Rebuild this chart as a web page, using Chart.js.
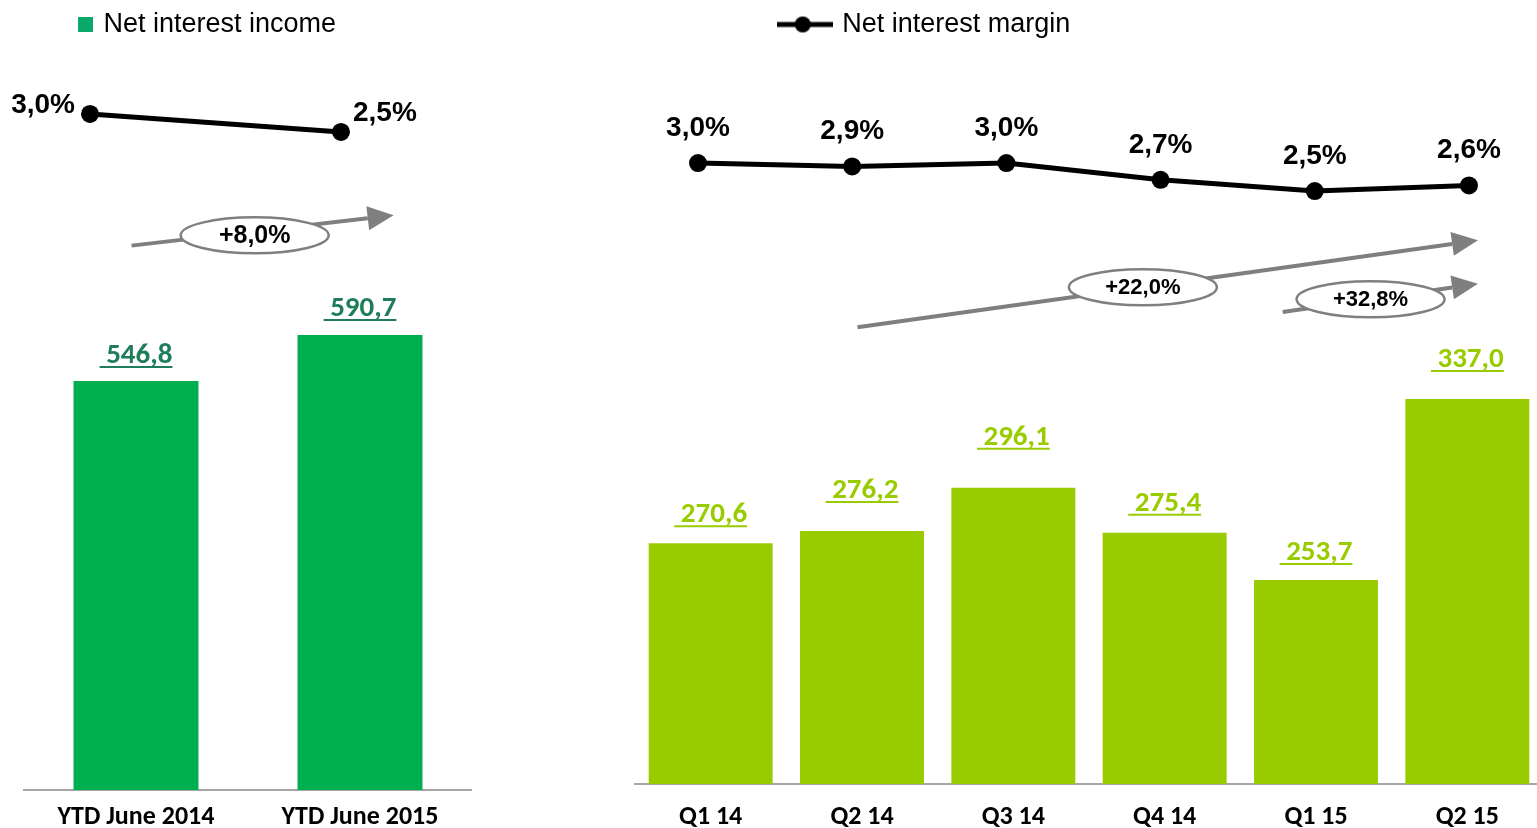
<!DOCTYPE html>
<html>
<head>
<meta charset="utf-8">
<script src="https://cdn.jsdelivr.net/npm/chart.js@4.4.1/dist/chart.umd.min.js"></script>
<style>
  html, body { margin: 0; padding: 0; background: #fff; overflow: hidden; width: 1537px; height: 828px; }
  canvas { position: absolute; top: 0; }
  #ytd { left: -54px; }
  #qtr { left: 308px; }
</style>
</head>
<body>
<canvas id="ytd" width="526" height="828"></canvas>
<canvas id="qtr" width="1235" height="828"></canvas>
<script>
// year to date
const ytdLabels = ['YTD June 2014', 'YTD June 2015'];
const ytdIncome = [546.8, 590.7];
const ytdMargin = [3.0, 2.5];
const ytdGrowth = ['+8,0%'];

// quarters
const qtrLabels = ['Q1 14', 'Q2 14', 'Q3 14', 'Q4 14', 'Q1 15', 'Q2 15'];
const qtrIncome = [270.6, 276.2, 296.1, 275.4, 253.7, 337.0];
const qtrMargin = [3.0, 2.94, 3.0, 2.7, 2.5, 2.6];
const qtrGrowth = ['+22,0%', '+32,8%'];

const ARIAL = '"Liberation Sans", Arial, sans-serif';
const CALIBRI = 'Carlito, Calibri, Lato, sans-serif';
Chart.defaults.font.family = ARIAL;

const fmt = v => v.toFixed(1).replace('.', ',');

// labels above bars (underlined) and next to the margin points
const valueLabels = {
  id: 'valueLabels',
  afterDatasetsDraw(chart, args, opts) {
    const ctx = chart.ctx;
    ctx.save();
    chart.data.datasets.forEach((ds, di) => {
      const meta = chart.getDatasetMeta(di);
      meta.data.forEach((el, i) => {
        const v = ds.data[i];
        if (meta.type === 'bar') {
          const txt = ' ' + fmt(v);
          ctx.font = opts.barFont;
          ctx.fillStyle = ctx.strokeStyle = opts.barColor;
          ctx.textAlign = 'center';
          ctx.textBaseline = 'alphabetic';
          const y = el.y - opts.lift[i];
          ctx.fillText(txt, el.x, y);
          const w = ctx.measureText(txt).width;
          ctx.lineWidth = 2;
          ctx.beginPath();
          ctx.moveTo(el.x - w / 2, y + 4);
          ctx.lineTo(el.x + w / 2, y + 4);
          ctx.stroke();
        } else {
          const off = opts.pointOffsets[i];
          ctx.font = opts.pointFont;
          ctx.fillStyle = '#000';
          ctx.textAlign = off[2];
          ctx.textBaseline = 'middle';
          ctx.fillText(fmt(v.y) + '%', el.x + off[0], el.y + off[1]);
        }
      });
    });
    ctx.restore();
  }
};

// grey growth arrows with an ellipse label
const growthArrows = {
  id: 'growthArrows',
  afterDatasetsDraw(chart, args, opts) {
    const ctx = chart.ctx;
    const xs = chart.scales.x, ys = chart.scales.y;
    opts.arrows.forEach(a => {
      const x0 = xs.getPixelForValue(a.from[0]), y0 = ys.getPixelForValue(a.from[1]);
      const x1 = xs.getPixelForValue(a.to[0]), y1 = ys.getPixelForValue(a.to[1]);
      const ang = Math.atan2(y1 - y0, x1 - x0);
      const c = Math.cos(ang), s = Math.sin(ang);
      const head = 26, half = 12;
      ctx.save();
      ctx.strokeStyle = ctx.fillStyle = '#7F7F7F';
      ctx.lineWidth = 4;
      ctx.beginPath();
      ctx.moveTo(x0, y0);
      ctx.lineTo(x1 - head * c, y1 - head * s);
      ctx.stroke();
      ctx.beginPath();
      ctx.moveTo(x1, y1);
      ctx.lineTo(x1 - head * c + half * s, y1 - head * s - half * c);
      ctx.lineTo(x1 - head * c - half * s, y1 - head * s + half * c);
      ctx.closePath();
      ctx.fill();
      const cx = x0 + (x1 - x0) * a.at;
      const cy = y0 + (y1 - y0) * a.at + a.dy;
      ctx.beginPath();
      ctx.ellipse(cx, cy, 74, 18, 0, 0, Math.PI * 2);
      ctx.fillStyle = '#fff';
      ctx.fill();
      ctx.lineWidth = 2.5;
      ctx.stroke();
      ctx.fillStyle = '#000';
      ctx.font = 'bold ' + a.size + 'px ' + ARIAL;
      ctx.textAlign = 'center';
      ctx.textBaseline = 'middle';
      ctx.fillText(a.text, cx, cy + 1);
      ctx.restore();
    });
  }
};

function legendSquare(color) {
  const c = document.createElement('canvas');
  c.width = 15; c.height = 15;
  const g = c.getContext('2d');
  g.fillStyle = color;
  g.fillRect(0, 0, 15, 15);
  return c;
}

function legendLine() {
  const c = document.createElement('canvas');
  c.width = 56; c.height = 20;
  const g = c.getContext('2d');
  g.strokeStyle = g.fillStyle = '#000';
  g.lineWidth = 5;
  g.beginPath(); g.moveTo(0, 10); g.lineTo(56, 10); g.stroke();
  g.beginPath(); g.arc(26, 10, 8, 0, Math.PI * 2); g.fill();
  return c;
}

function xAxis(height, pad) {
  return {
    grid: { display: false, drawTicks: false },
    border: { color: '#A6A6A6', width: 2 },
    ticks: { color: '#000', padding: pad, font: { family: CALIBRI, size: 26, weight: 'bold' } },
    afterFit: s => { s.height = height; }
  };
}

function hiddenY(min, max, width) {
  return {
    min: min, max: max,
    grid: { display: false }, border: { display: false }, ticks: { display: false },
    afterFit: s => { s.width = width; }
  };
}

function marginSet(values) {
  return {
    type: 'line', label: 'Net interest margin',
    data: values.map((v, i) => ({ x: i, y: v })),
    xAxisID: 'x2', yAxisID: 'y2',
    borderColor: '#000', borderWidth: 5, tension: 0,
    pointRadius: 9, pointBackgroundColor: '#000', pointBorderWidth: 0,
    clip: false, order: 0
  };
}

new Chart(document.getElementById('ytd'), {
  type: 'bar',
  data: {
    labels: ytdLabels,
    datasets: [
      { type: 'bar', label: 'Net interest income', data: ytdIncome, backgroundColor: '#00B050',
        borderWidth: 0, grouped: false, categoryPercentage: 1, barPercentage: 0.558, order: 1 },
      marginSet(ytdMargin)
    ]
  },
  plugins: [valueLabels, growthArrows],
  options: {
    responsive: false, animation: false, devicePixelRatio: 1,
    layout: { autoPadding: false, padding: { top: 1 } },
    scales: {
      x: xAxis(38, 12),
      y: hiddenY(156.5, 864.6, 78),
      x2: { type: 'linear', display: false, offset: false, min: -0.263, max: 1.522 },
      y2: { type: 'linear', display: false, min: -15.778, max: 4.833 }
    },
    plugins: {
      tooltip: { enabled: false },
      legend: {
        labels: {
          usePointStyle: true, pointStyle: legendSquare('#0AA96A'), pointStyleWidth: 8,
          color: '#000', font: { size: 27, family: ARIAL }, padding: 10,
          filter: item => item.datasetIndex === 0
        }
      },
      valueLabels: {
        barFont: 'bold 29px ' + CALIBRI, barColor: '#1F7D5A', lift: [18, 19],
        pointFont: 'bold 28px ' + ARIAL,
        pointOffsets: [[-15, -9, 'right'], [12, -19, 'left']]
      },
      growthArrows: {
        arrows: [{ from: [-0.02, 676], to: [1.15, 705], at: 0.47, dy: 4, size: 25, text: ytdGrowth[0] }]
      }
    }
  }
});

new Chart(document.getElementById('qtr'), {
  type: 'bar',
  data: {
    labels: qtrLabels,
    datasets: [
      { type: 'bar', label: 'Net interest income', data: qtrIncome, backgroundColor: '#99CC00',
        borderWidth: 0, grouped: false, categoryPercentage: 1, barPercentage: 0.819, order: 1 },
      marginSet(qtrMargin)
    ]
  },
  plugins: [valueLabels, growthArrows],
  options: {
    responsive: false, animation: false, devicePixelRatio: 1,
    layout: { autoPadding: false, padding: { top: 1 } },
    scales: {
      x: xAxis(44, 18),
      y: hiddenY(159.8, 498.5, 327),
      x2: { type: 'linear', display: false, offset: false, min: -0.4086, max: 5.480 },
      y2: { type: 'linear', display: false, min: -8.089, max: 5.054 }
    },
    plugins: {
      tooltip: { enabled: false },
      legend: {
        labels: {
          usePointStyle: true, pointStyle: legendLine(), pointStyleWidth: 48,
          color: '#000', font: { size: 27, family: ARIAL }, padding: 10,
          filter: item => item.datasetIndex === 1
        }
      },
      valueLabels: {
        barFont: 'bold 29px ' + CALIBRI, barColor: '#99CC00', lift: [21, 33, 43, 22, 20, 32],
        pointFont: 'bold 28px ' + ARIAL,
        pointOffsets: qtrMargin.map(() => [0, -35, 'center'])
      },
      growthArrows: {
        arrows: [
          { from: [0.97, 370], to: [5.07, 410], at: 0.46, dy: 0, size: 22, text: qtrGrowth[0] },
          { from: [3.78, 377], to: [5.07, 390], at: 0.45, dy: 0, size: 22, text: qtrGrowth[1] }
        ]
      }
    }
  }
});
</script>
</body>
</html>
